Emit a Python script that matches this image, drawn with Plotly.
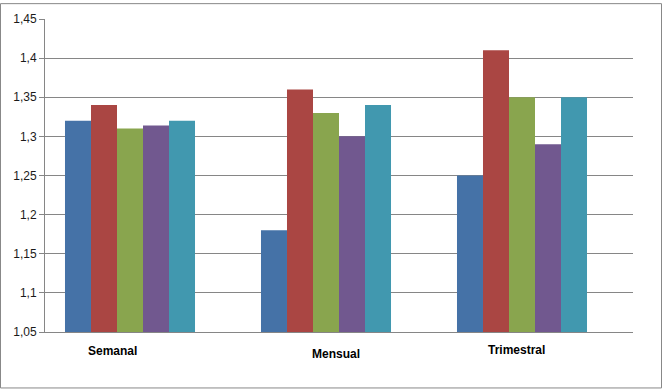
import plotly.graph_objects as go

categories = ["Semanal", "Mensual", "Trimestral"]
serie1 = [1.32, 1.18, 1.25]
serie2 = [1.34, 1.36, 1.41]
serie3 = [1.31, 1.33, 1.35]
serie4 = [1.314, 1.30, 1.29]
serie5 = [1.32, 1.34, 1.35]
serie6 = [None, None, None]  # empty series (reserves a slot in each group)

colors = ["#4572A7", "#AA4643", "#89A54E", "#71588F", "#4198AF", "#ffffff"]
tick_vals = [1.05, 1.10, 1.15, 1.20, 1.25, 1.30, 1.35, 1.40, 1.45]
tick_text = ["1,05", "1,1", "1,15", "1,2", "1,25", "1,3", "1,35", "1,4", "1,45"]

W, H = 662, 389
L, R, T, B = 45, 29, 16, 57
pw, ph = W - L - R, H - T - B

fig = go.Figure()
for ys, c in zip([serie1, serie2, serie3, serie4, serie5, serie6], colors):
    fig.add_trace(go.Bar(x=categories, y=ys, marker=dict(color=c, line=dict(width=0)),
                         showlegend=False, base=None))

fig.update_layout(
    width=W, height=H,
    margin=dict(l=L, r=R, t=T, b=B, pad=0),
    paper_bgcolor="white", plot_bgcolor="white",
    barmode="group", bargap=0.204, bargroupgap=0,
    font=dict(family="Liberation Sans, Arial, sans-serif", size=12, color="#1a1a1a"),
    xaxis=dict(type="category", showticklabels=False, showgrid=False,
               showline=True, linecolor="#868686", linewidth=1, ticks="",
               range=[-0.5, 2.5], fixedrange=True),
    yaxis=dict(range=[1.05, 1.45], tickvals=tick_vals, ticktext=tick_text,
               showgrid=True, gridcolor="#868686", gridwidth=1,
               showline=True, linecolor="#868686", linewidth=1,
               ticks="outside", ticklen=5, tickcolor="#868686",
               zeroline=False, tickfont=dict(size=12, color="#1a1a1a"),
               fixedrange=True),
    shapes=[dict(type="rect", xref="paper", yref="paper",
                 x0=(0.5 - L) / pw, x1=(W - 0.5 - L) / pw,
                 y0=-(H - 0.5 - (T + ph)) / ph, y1=(T + ph - 0.5) / ph,
                 line=dict(color="#888888", width=1), fillcolor="rgba(0,0,0,0)",
                 layer="below")],
)

label_pos = [(112, 351), (336, 354), (516, 350)]
for cat, (px, py) in zip(categories, label_pos):
    fig.add_annotation(text="<b>" + cat + "</b>", xref="paper", yref="paper",
                       x=(px - L) / pw, y=-(py - (T + ph)) / ph,
                       xanchor="center", yanchor="middle", showarrow=False,
                       font=dict(size=12, color="#000000"))

fig.write_html("out.html")
